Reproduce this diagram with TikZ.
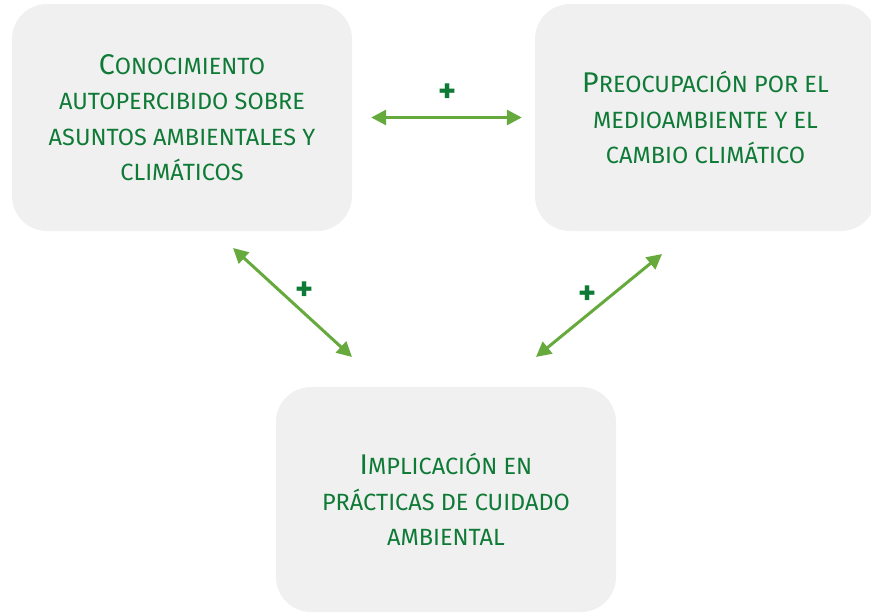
\documentclass[tikz,border=0pt]{standalone}
\usepackage{fontspec}
\setmainfont{Fira Sans}
\usetikzlibrary{arrows.meta}

\definecolor{boxgray}{HTML}{F0F0F0}
\definecolor{textgreen}{HTML}{0E7A36}
\definecolor{arrowgreen}{HTML}{66AA3D}

% larger first letter, for the small-caps look
\newcommand{\capletter}[1]{{\fontsize{28.5}{35.5}\selectfont #1}}

\begin{document}
\begin{tikzpicture}[x=1pt, y=-1pt,
  factor/.style={fill=boxgray, rounded corners=35pt, minimum height=227pt, align=center, text=textgreen, font=\fontsize{23.5}{35.5}\selectfont},
  link/.style={arrowgreen, line width=3pt, {Triangle[length=15pt,width=15pt]}-{Triangle[length=15pt,width=15pt]}},
  plus/.style={text=textgreen, font=\bfseries\fontsize{34}{34}\selectfont}]

\useasboundingbox (0,0) rectangle (871,613);

% the three boxes
\node[factor, minimum width=340pt] (know) at (182,117.5) {\capletter{C}ONOCIMIENTO\\AUTOPERCIBIDO SOBRE\\ASUNTOS AMBIENTALES Y\\CLIMÁTICOS};
\node[factor, minimum width=341pt] (worry) at (705.5,117.5) {\capletter{P}REOCUPACIÓN POR EL\\MEDIOAMBIENTE Y EL\\CAMBIO CLIMÁTICO};
\node[factor, minimum width=340pt, minimum height=225pt] (act) at (446,499.5) {\capletter{I}MPLICACIÓN EN\\PRÁCTICAS DE CUIDADO\\AMBIENTAL};

% ends of the slanted arrows
\coordinate (k1) at (233,248);
\coordinate (k3) at (352,357);
\coordinate (w2) at (662,254);
\coordinate (w3) at (536,357);

% arrows between the boxes
\draw[link, shorten <=19pt, shorten >=13pt] (know.east) -- (worry.west);
\draw[link] (k1) -- (k3);
\draw[link] (w2) -- (w3);

% signs
\node[plus] (p12) at (448,93) {+};
\node[plus] (p13) at (305,291) {+};
\node[plus] (p23) at (588,295) {+};

\end{tikzpicture}
\end{document}
